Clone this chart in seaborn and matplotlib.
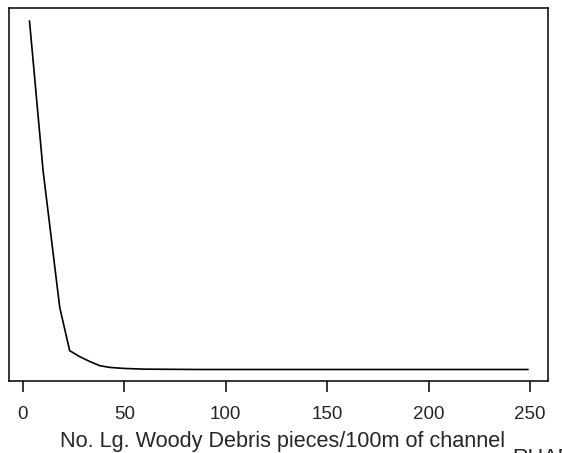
import numpy as np
import pandas as pd
import matplotlib
matplotlib.use('Agg')
import matplotlib.pyplot as plt
import seaborn as sns

# Data (y has no scale shown -> relative units)
lwd_pieces = [3.3, 10.0, 18.2, 23.1, 28.0, 33.0, 37.9, 42.8, 50.0, 60.0, 87.0, 150.0, 200.0, 249.0]
response = [1.000, 0.570, 0.178, 0.054, 0.037, 0.023, 0.011, 0.006, 0.003, 0.001, 0.0, 0.0, 0.0, 0.0]
x_ticks = [0, 50, 100, 150, 200, 250]

df = pd.DataFrame({'lwd': lwd_pieces, 'resp': response})

sns.set_style('white')
plt.rcParams['font.family'] = ['Liberation Sans', 'DejaVu Sans']

fig = plt.figure(figsize=(5.62, 4.53), dpi=100)
ax = fig.add_axes([9 / 562, 1 - 381 / 453, (548 - 9) / 562, (381 - 8) / 453])

sns.lineplot(data=df, x='lwd', y='resp', color='black', linewidth=1.2, ax=ax)

ax.set_xlim(-6.8, 258.8)
ax.set_ylim(-0.033, 1.037)
ax.set_xticks(x_ticks)
ax.set_xticklabels([str(t) for t in x_ticks], fontsize=13.5)
ax.set_yticks([])
ax.tick_params(axis='x', direction='out', length=8, width=1.1, color='black', pad=10, bottom=True)
for s in ax.spines.values():
    s.set_color('black')
    s.set_linewidth(1.1)

ax.set_xlabel('')
ax.set_ylabel('')
# x label sits a little right of the axes centre, as in the reference
fig.text(283 / 562, 1 - 447 / 453, 'No. Lg. Woody Debris pieces/100m of channel',
         fontsize=15.6, ha='center', va='baseline')

# stray label, mostly clipped by the bottom edge in the reference
fig.text(512 / 562, 1 - 448 / 453, 'RHAB', fontsize=15.6, va='top', ha='left')

fig.savefig('out.png', dpi=100, facecolor='white')
